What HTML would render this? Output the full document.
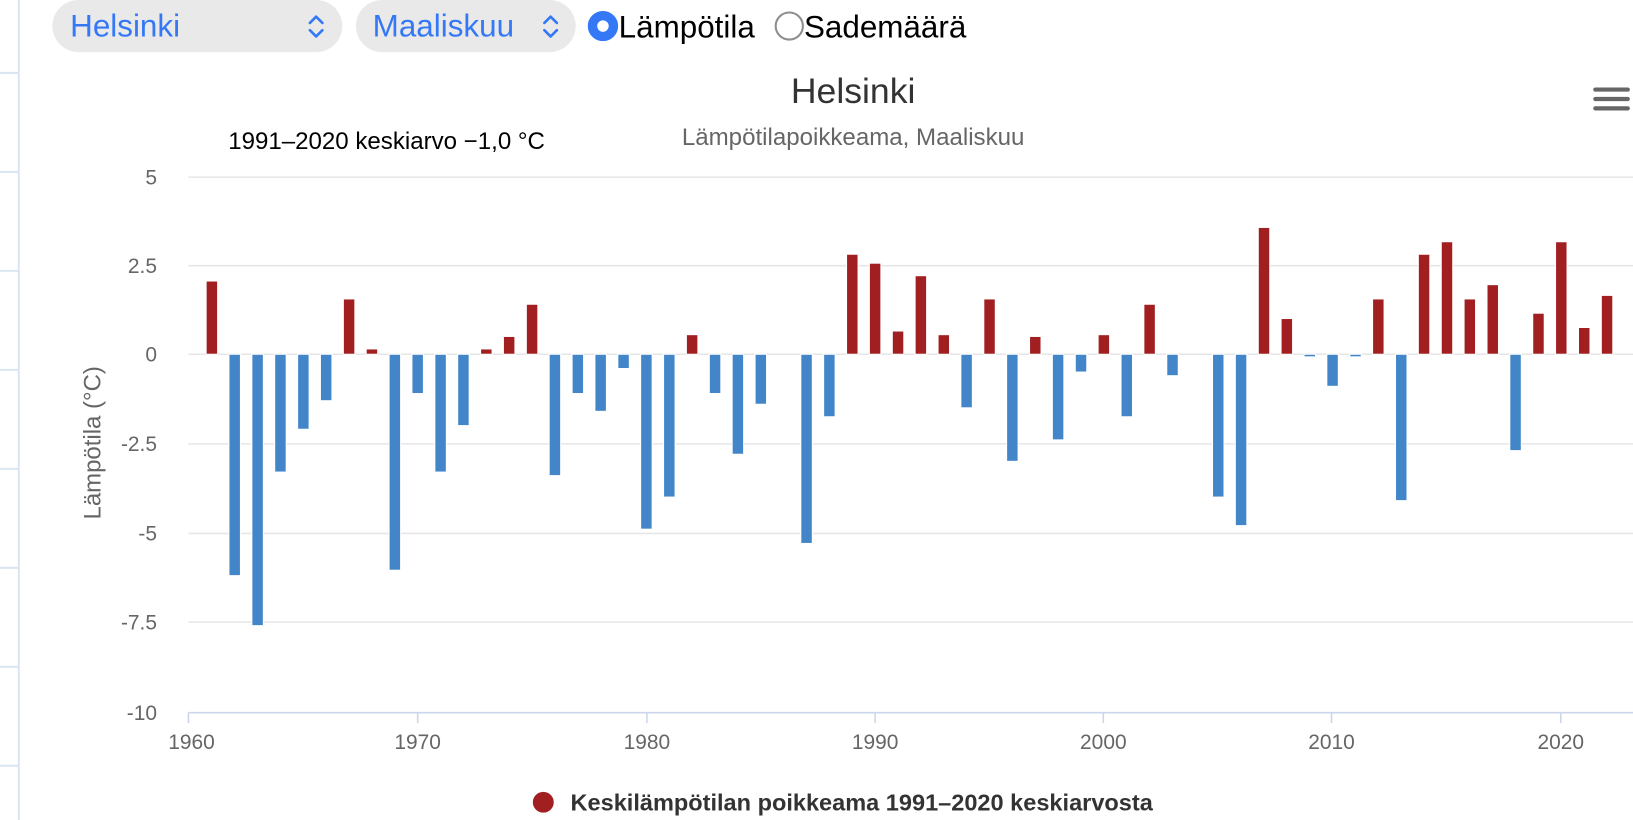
<!DOCTYPE html>
<html><head><meta charset="utf-8"><style>
html,body{margin:0;padding:0;background:#fff;width:1633px;height:820px;overflow:hidden}
#c{position:absolute;left:0;top:0;width:1560px;height:787px;transform:scale(1.0468,1.0419);transform-origin:0 0;font-family:"Liberation Sans",sans-serif}
.sel{position:absolute;top:0;height:50px;background:#e9e9e9;border-radius:25px;color:#3478f6;font-size:30px;line-height:52px}
</style></head><body><div id="c">
<div class="sel" style="left:50px;width:277px"><span style="position:absolute;left:17px">Helsinki</span></div>
<div class="sel" style="left:340px;width:210px"><span style="position:absolute;left:16px">Maaliskuu</span></div>
<svg width="1560" height="787" style="position:absolute;left:0;top:0" font-family="Liberation Sans, sans-serif">
<line x1="18" y1="0" x2="18" y2="787" stroke="#dbe6f3" stroke-width="2"/>
<g stroke="#dbe6f3" stroke-width="2"><line x1="0" y1="70" x2="18" y2="70"/><line x1="0" y1="165" x2="18" y2="165"/><line x1="0" y1="260" x2="18" y2="260"/><line x1="0" y1="355" x2="18" y2="355"/><line x1="0" y1="450" x2="18" y2="450"/><line x1="0" y1="545" x2="18" y2="545"/><line x1="0" y1="640" x2="18" y2="640"/><line x1="0" y1="735" x2="18" y2="735"/></g>
<g fill="none" stroke="#3478f6" stroke-width="2.5" stroke-linecap="round" stroke-linejoin="round"><path d="M296 22 L302 16 L308 22 M296 29 L302 35 L308 29"/><path d="M520 22 L526 16 L532 22 M520 29 L526 35 L532 29"/></g>
<circle cx="576" cy="25" r="10" fill="#fff" stroke="#3478f6" stroke-width="9"/>
<text x="591" y="36" font-size="30" fill="#000">Lämpötila</text>
<circle cx="754" cy="25" r="13" fill="#fff" stroke="#8e8e8e" stroke-width="2"/>
<text x="768" y="36" font-size="30" fill="#000">Sademäärä</text>
<text x="815" y="99" font-size="34" fill="#333" text-anchor="middle">Helsinki</text>
<text x="815" y="139" font-size="23" fill="#666" text-anchor="middle">Lämpötilapoikkeama, Maaliskuu</text>
<text x="218" y="143" font-size="23" fill="#000">1991–2020 keskiarvo −1,0 °C</text>
<g stroke="#666" stroke-width="4" stroke-linecap="round"><line x1="1524" y1="86" x2="1555" y2="86"/><line x1="1524" y1="95" x2="1555" y2="95"/><line x1="1524" y1="104" x2="1555" y2="104"/></g>
<g stroke="#e6e6e6" stroke-width="1.5"><line x1="180" y1="170" x2="1560" y2="170"/><line x1="180" y1="255" x2="1560" y2="255"/><line x1="180" y1="340" x2="1560" y2="340"/><line x1="180" y1="426" x2="1560" y2="426"/><line x1="180" y1="512" x2="1560" y2="512"/><line x1="180" y1="597" x2="1560" y2="597"/></g>
<line x1="180" y1="684" x2="1560" y2="684" stroke="#ccd6eb" stroke-width="1.5"/>
<g stroke="#ccd6eb" stroke-width="1.5"><line x1="180" y1="684" x2="180" y2="694"/><line x1="399" y1="684" x2="399" y2="694"/><line x1="618" y1="684" x2="618" y2="694"/><line x1="836" y1="684" x2="836" y2="694"/><line x1="1054" y1="684" x2="1054" y2="694"/><line x1="1272" y1="684" x2="1272" y2="694"/><line x1="1491" y1="684" x2="1491" y2="694"/></g>
<g font-size="20" fill="#666" text-anchor="end"><text x="150" y="177">5</text><text x="150" y="262">2.5</text><text x="150" y="347">0</text><text x="150" y="433">-2.5</text><text x="150" y="519">-5</text><text x="150" y="604">-7.5</text><text x="150" y="691">-10</text></g>
<g font-size="20" fill="#666" text-anchor="middle"><text x="183" y="719">1960</text><text x="399" y="719">1970</text><text x="618" y="719">1980</text><text x="836" y="719">1990</text><text x="1054" y="719">2000</text><text x="1272" y="719">2010</text><text x="1491" y="719">2020</text></g>
<text transform="translate(96,425) rotate(-90)" font-size="23" fill="#666" text-anchor="middle">Lämpötila (°C)</text>
<g fill="#a11f20" stroke="#fff" stroke-width="1">
<rect x="196.9" y="269.7" width="11" height="70.3"/>
<rect x="328.0" y="286.9" width="11" height="53.1"/>
<rect x="349.8" y="334.9" width="11" height="5.1"/>
<rect x="459.1" y="334.9" width="11" height="5.1"/>
<rect x="480.9" y="322.9" width="11" height="17.1"/>
<rect x="502.8" y="292" width="11" height="48"/>
<rect x="655.7" y="321.2" width="11" height="18.8"/>
<rect x="808.7" y="244" width="11" height="96"/>
<rect x="830.5" y="252.6" width="11" height="87.4"/>
<rect x="852.4" y="317.7" width="11" height="22.3"/>
<rect x="874.2" y="264.6" width="11" height="75.4"/>
<rect x="896.1" y="321.2" width="11" height="18.8"/>
<rect x="939.8" y="286.9" width="11" height="53.1"/>
<rect x="983.5" y="322.9" width="11" height="17.1"/>
<rect x="1049.0" y="321.2" width="11" height="18.8"/>
<rect x="1092.7" y="292" width="11" height="48"/>
<rect x="1202.0" y="218.3" width="11" height="121.7"/>
<rect x="1223.8" y="305.7" width="11" height="34.3"/>
<rect x="1311.2" y="286.9" width="11" height="53.1"/>
<rect x="1354.9" y="244" width="11" height="96"/>
<rect x="1376.8" y="232" width="11" height="108"/>
<rect x="1398.6" y="286.9" width="11" height="53.1"/>
<rect x="1420.5" y="273.2" width="11" height="66.8"/>
<rect x="1464.2" y="300.6" width="11" height="39.4"/>
<rect x="1486.0" y="232" width="11" height="108"/>
<rect x="1507.9" y="314.3" width="11" height="25.7"/>
<rect x="1529.7" y="283.5" width="11" height="56.5"/>
</g>
<g fill="#4286c9" stroke="#fff" stroke-width="1">
<rect x="218.7" y="340" width="11" height="212.5"/>
<rect x="240.6" y="340" width="11" height="260.5"/>
<rect x="262.4" y="340" width="11" height="113.1"/>
<rect x="284.3" y="340" width="11" height="72"/>
<rect x="306.1" y="340" width="11" height="44.6"/>
<rect x="371.7" y="340" width="11" height="207.3"/>
<rect x="393.5" y="340" width="11" height="37.7"/>
<rect x="415.4" y="340" width="11" height="113.1"/>
<rect x="437.2" y="340" width="11" height="68.5"/>
<rect x="524.6" y="340" width="11" height="116.5"/>
<rect x="546.5" y="340" width="11" height="37.7"/>
<rect x="568.3" y="340" width="11" height="54.8"/>
<rect x="590.2" y="340" width="11" height="13.7"/>
<rect x="612.0" y="340" width="11" height="167.9"/>
<rect x="633.9" y="340" width="11" height="137.1"/>
<rect x="677.6" y="340" width="11" height="37.7"/>
<rect x="699.4" y="340" width="11" height="96"/>
<rect x="721.3" y="340" width="11" height="48"/>
<rect x="765.0" y="340" width="11" height="181.6"/>
<rect x="786.8" y="340" width="11" height="60"/>
<rect x="917.9" y="340" width="11" height="51.4"/>
<rect x="961.6" y="340" width="11" height="102.8"/>
<rect x="1005.3" y="340" width="11" height="82.2"/>
<rect x="1027.2" y="340" width="11" height="17.1"/>
<rect x="1070.9" y="340" width="11" height="60"/>
<rect x="1114.6" y="340" width="11" height="20.6"/>
<rect x="1158.3" y="340" width="11" height="137.1"/>
<rect x="1180.1" y="340" width="11" height="164.5"/>
<rect x="1245.7" y="340" width="11" height="2.5"/>
<rect x="1267.5" y="340" width="11" height="30.8"/>
<rect x="1289.4" y="340" width="11" height="2.5"/>
<rect x="1333.1" y="340" width="11" height="140.5"/>
<rect x="1442.3" y="340" width="11" height="92.5"/>
</g>
<circle cx="519" cy="770" r="10" fill="#a11f20"/>
<text x="545" y="778" font-size="22.5" font-weight="bold" fill="#333">Keskilämpötilan poikkeama 1991–2020 keskiarvosta</text>
</svg>
</div></body></html>
